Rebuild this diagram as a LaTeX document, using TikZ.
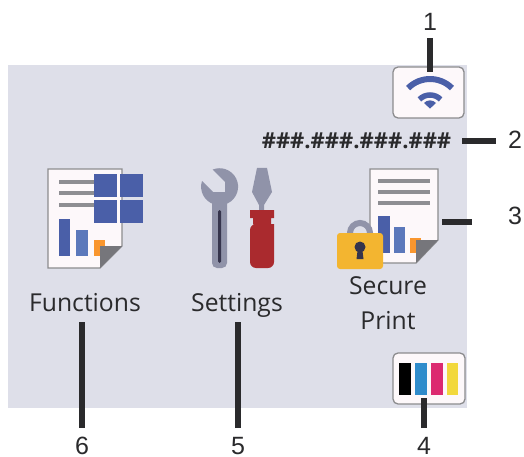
\documentclass[tikz,border=0pt]{standalone}
\usepackage{fontspec}
\setmainfont{Open Sans}
\newfontfamily\numfont{Liberation Sans}
\usepackage{tikz}
\usetikzlibrary{calc}
\definecolor{panelcol}{HTML}{DEDFE9}
\definecolor{papercol}{HTML}{FDF8FA}
\definecolor{edgecol}{HTML}{8C8C8E}
\definecolor{rulecol}{HTML}{8E8E92}
\definecolor{bluecol}{HTML}{4A5FA8}
\definecolor{lightblue}{HTML}{5B78BB}
\definecolor{orangecol}{HTML}{F9962E}
\definecolor{foldcol}{HTML}{76767B}
\definecolor{steelcol}{HTML}{9093A9}
\definecolor{slotcol}{HTML}{35344C}
\definecolor{redcol}{HTML}{AA2A2E}
\definecolor{lockcol}{HTML}{F3B530}
\definecolor{inkblue}{HTML}{2F8BCB}
\definecolor{inkred}{HTML}{DC2A70}
\definecolor{inkyellow}{HTML}{F2D83C}
\definecolor{textcol}{HTML}{2A2A2C}
\tikzset{
  paper/.style={draw=edgecol,fill=papercol,line width=1.3pt},
  button/.style={draw=edgecol,fill=papercol,line width=1.3pt,rounded corners=5pt,inner sep=0pt},
  caption/.style={inner sep=0pt,text=textcol,font=\fontsize{24.7}{35}\selectfont,align=center},
  number/.style={inner sep=0pt,text=textcol,font=\numfont\fontsize{25}{25}\selectfont},
  callout/.style={draw=textcol,line width=6pt}
}
\begin{document}
\begin{tikzpicture}[x=1pt,y=-1pt]
  \useasboundingbox (0,0) rectangle (524,457);
  \fill[panelcol] (8,65) rectangle (467,408);

  \draw[paper] (48,169) -- (122,169) -- (122,246) -- (100,268) -- (48,268) -- cycle;
  \foreach \y in {182,193,205}
    \fill[rulecol] (59,\y-2) rectangle (94,\y+2);
  \fill[bluecol] (59,219) rectangle (70,256);
  \fill[lightblue] (76,230) rectangle (88,256);
  \fill[orangecol] (94,240) rectangle (105,256);
  \fill[foldcol] (100,268) -- (100,246) -- (122,246) -- cycle;
  \foreach \x in {94,120}
    \foreach \y in {174,200}
      \fill[bluecol] (\x,\y) rectangle (\x+23,\y+23);

  \fill[steelcol] (202,181) arc (198:-112:18.5) -- (225,182) -- (225,192) -- (213,192) -- cycle;
  \fill[steelcol,rounded corners=5pt] (212,195) rectangle (227,268);
  \fill[slotcol,rounded corners=1.5pt] (218,210) rectangle (221,263);
  \fill[steelcol] (257,168) -- (267,168) -- (272,192) -- (264,205) -- (264,212) -- (259,212) -- (259,205) -- (252,192) -- cycle;
  \fill[redcol] (250,210) -- (274,210) -- (274,218) -- (271,218) -- (271,224) -- (274,224)
    {[rounded corners=6pt] -- (274,268) -- (250,268) -- (250,224)} -- (253,224) -- (253,218) -- (250,218) -- cycle;

  \draw[paper] (370,169) -- (438,169) -- (438,240) -- (416,263) -- (370,263) -- cycle;
  \foreach \y in {180.5,192,203}
    \fill[rulecol] (378,\y-2) rectangle (430,\y+2);
  \fill[bluecol] (378,216) rectangle (390,253);
  \fill[lightblue] (394,227) rectangle (405,253);
  \fill[orangecol] (410,238) rectangle (421,253);
  \fill[foldcol] (416,263) -- (416,240) -- (438,240) -- cycle;
  \draw[steelcol,line width=6pt] (350,236) -- (350,233) arc (-180:0:10) -- (370,236);
  \fill[lockcol,rounded corners=3pt] (337,233) rectangle (383,269);
  \fill[slotcol] (360,247) circle (5.5);
  \fill[slotcol] (358,247) -- (362,247) -- (363.5,259) -- (356.5,259) -- cycle;

  \node[button,minimum width=71pt,minimum height=51pt] (wifi) at (428.5,92.5) {};
  \draw[bluecol,line width=6pt] (408.1,88.1) arc (-135:-45:31);
  \draw[bluecol,line width=5.5pt] (419.4,99.4) arc (-135:-45:15);
  \fill[bluecol] (430,108.6) -- (424,103) .. controls (427,99.5) and (433,99.5) .. (436,103) -- cycle;

  \node[button,minimum width=72pt,minimum height=51pt] (ink) at (429,378.5) {};
  \fill[black] (399,363) rectangle (411,395);
  \fill[inkblue] (415,363) rectangle (427,395);
  \fill[inkred] (431,363) rectangle (443,395);
  \fill[inkyellow] (447,363) rectangle (458,395);

  \node[caption,anchor=base] (functions) at (85,311.5) {Functions};
  \node[caption,anchor=base] (settings) at (237,311.5) {Settings};
  \node[caption] (secure) at (388,303) {Secure\\Print};
  \node[inner sep=0pt,text=textcol,font=\bfseries\fontsize{22}{24}\selectfont] (address) at (356.5,141) {\#\#\#.\#\#\#.\#\#\#.\#\#\#};

  \node[number] (n1) at (430,22) {1};
  \node[number] (n2) at (515,140) {2};
  \node[number] (n3) at (515,216) {3};
  \node[number] (n4) at (424,446) {4};
  \node[number] (n5) at (238,446) {5};
  \node[number] (n6) at (82,446) {6};

  \coordinate (e1) at (430,72);
  \coordinate (e2) at (462,141);
  \coordinate (e3) at (442,222);
  \coordinate (e4) at (424,398);
  \coordinate (e5) at (238,322);
  \coordinate (e6) at (82,322);

  \draw[callout,shorten <=7pt] (n1.south) -- (e1);
  \draw[callout,shorten <=12pt] (e2 -| n2.west) -- (e2);
  \draw[callout,shorten <=36pt] (e3 -| n3.west) -- (e3);
  \draw[callout,shorten <=9pt] (n4.north) -- (e4);
  \draw[callout,shorten <=9pt] (n5.north) -- (e5);
  \draw[callout,shorten <=9pt] (n6.north) -- (e6);
\end{tikzpicture}
\end{document}
